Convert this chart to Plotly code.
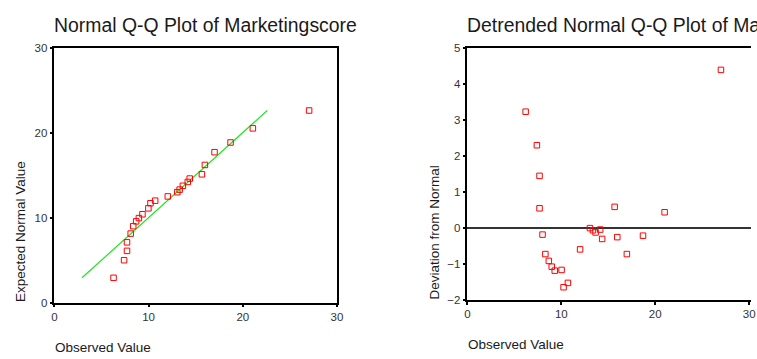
import plotly.graph_objects as go

# Observed values with their expected normal values (Q-Q plot)
observed = [6.28, 7.4, 7.71, 7.71, 8.1, 8.37, 8.68, 8.97, 9.35, 9.98, 10.2, 10.7,
            12.04, 13.05, 13.3, 13.64, 14.16, 14.37, 15.66, 15.98, 17.0, 18.7, 21.07, 27.04]
expected = [2.93, 5.0, 6.1, 7.1, 8.13, 9.0, 9.57, 9.95, 10.4, 11.1, 11.7, 12.0,
            12.5, 13.0, 13.3, 13.75, 14.2, 14.6, 15.1, 16.2, 17.7, 18.84, 20.5, 22.6]

# Observed values with their deviation from normal (detrended plot)
det_observed = [6.2, 7.4, 7.68, 7.68, 8.0, 8.3, 8.67, 8.98, 9.3, 10.03, 10.24, 10.7,
                12.0, 13.05, 13.37, 13.65, 14.14, 14.35, 15.68, 15.96, 16.98, 18.7, 21.0, 27.0]
deviation = [3.22, 2.29, 1.44, 0.54, -0.19, -0.73, -0.92, -1.08, -1.19, -1.17, -1.65, -1.53,
             -0.6, -0.01, -0.07, -0.13, -0.05, -0.31, 0.58, -0.26, -0.73, -0.22, 0.43, 4.38]

# Reference line of the Q-Q plot
ref_line = [2.93, 22.6]

qq_ticks = [0, 10, 20, 30]
dev_ticks = [-2, -1, 0, 1, 2, 3, 4, 5]

FONT = "Liberation Sans, Arial, sans-serif"
TXT = "#1a1a1a"

fig = go.Figure()

fig.add_trace(go.Scatter(x=ref_line, y=ref_line, mode="lines",
                         line=dict(color="#1ee61e", width=1.2),
                         xaxis="x", yaxis="y", hoverinfo="skip"))
fig.add_trace(go.Scatter(x=observed, y=expected, mode="markers",
                         marker=dict(symbol="square-open", size=5.5, color="#ff0000",
                                     line=dict(width=1, color="#ff0000")),
                         xaxis="x", yaxis="y"))
fig.add_trace(go.Scatter(x=det_observed, y=deviation, mode="markers",
                         marker=dict(symbol="square-open", size=5.5, color="#ff0000",
                                     line=dict(width=1, color="#ff0000")),
                         xaxis="x2", yaxis="y2"))

W, H = 757, 359

def px_x(p):
    return p / W

def px_y(p):
    return (H - p) / H

axis_common = dict(
    showgrid=False, showline=True, linecolor="black", linewidth=1.5,
    ticks="outside", ticklen=3, tickwidth=2, tickcolor="black",
    tickfont=dict(family=FONT, size=11.5, color="#333333"),
)

fig.update_layout(
    width=W, height=H,
    margin=dict(l=0, r=0, t=0, b=0),
    paper_bgcolor="white", plot_bgcolor="white",
    showlegend=False,
    xaxis=dict(domain=[px_x(52), px_x(338)], range=[0, 30], tickvals=qq_ticks,
               mirror=True, zeroline=False, anchor="y", **axis_common),
    yaxis=dict(domain=[px_y(307), px_y(43)], range=[0, 30], tickvals=qq_ticks,
               mirror=True, zeroline=False, anchor="x", **axis_common),
    xaxis2=dict(domain=[px_x(470), 1.0], range=[0, 30.2], tickvals=qq_ticks,
                mirror=True, zeroline=False, anchor="y2", **axis_common),
    yaxis2=dict(domain=[px_y(304), px_y(43)], range=[-2, 5], tickvals=dev_ticks,
                zeroline=True, zerolinecolor="#333333", zerolinewidth=1.5,
                anchor="x2", **axis_common),
)

annotations = [
    dict(text="Normal Q-Q Plot of Marketingscore", x=px_x(50), y=px_y(20),
         xanchor="left", yanchor="middle"),
    dict(text="Detrended Normal Q-Q Plot of Marketingscore", x=px_x(468), y=px_y(20),
         xanchor="left", yanchor="middle"),
]
for a in annotations:
    a.update(xref="paper", yref="paper", showarrow=False,
             font=dict(family=FONT, size=19.4, color=TXT))

labels = [
    dict(text="Observed Value", x=px_x(51), y=px_y(353), xanchor="left", yanchor="middle"),
    dict(text="Observed Value", x=px_x(469), y=px_y(350), xanchor="left", yanchor="middle"),
    dict(text="Expected Normal Value", x=px_x(17), y=px_y(308), xanchor="center",
         yanchor="bottom", textangle=-90),
    dict(text="Deviation from Normal", x=px_x(437), y=px_y(306), xanchor="center",
         yanchor="bottom", textangle=-90),
]
for a in labels:
    a.update(xref="paper", yref="paper", showarrow=False,
             font=dict(family=FONT, size=13.5, color=TXT))

fig.update_layout(annotations=annotations + labels)

fig.write_html("out.html")
